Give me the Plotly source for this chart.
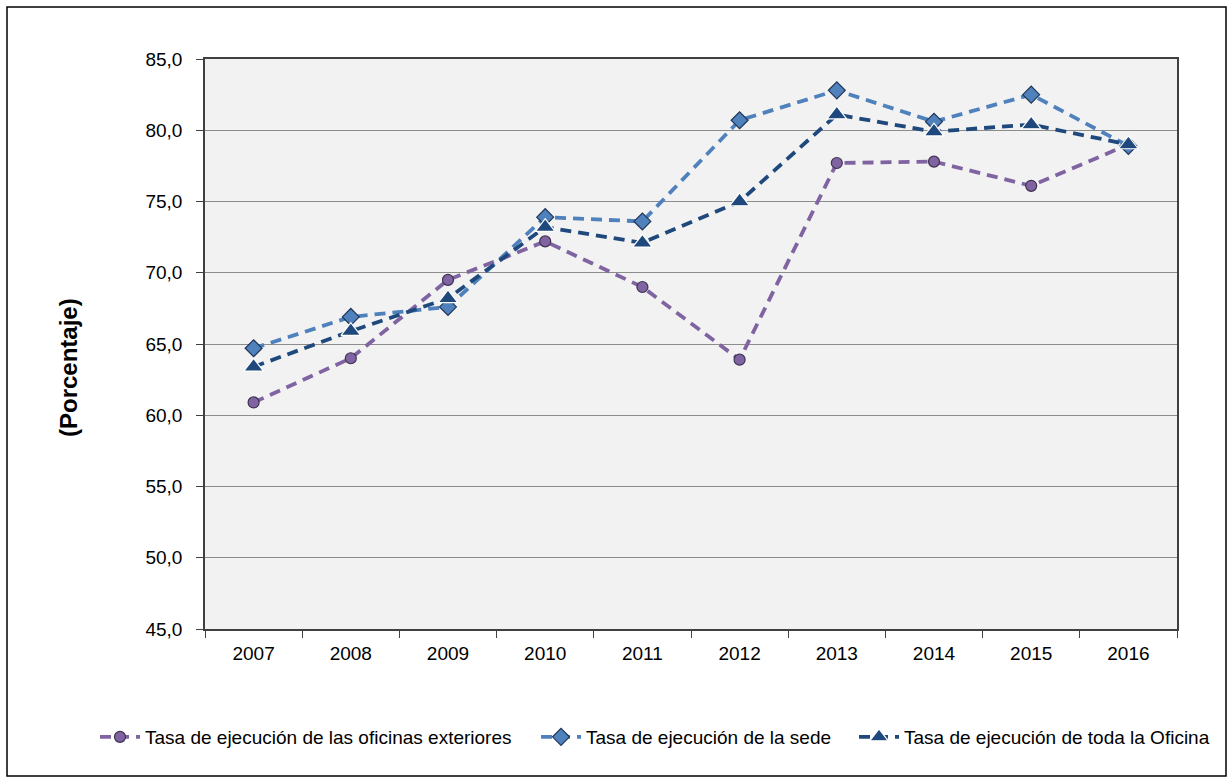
import plotly.graph_objects as go

years = ["2007", "2008", "2009", "2010", "2011", "2012", "2013", "2014", "2015", "2016"]
oficinas_exteriores = [60.9, 64.0, 69.5, 72.2, 69.0, 63.9, 77.7, 77.8, 76.1, 79.0]
sede = [64.7, 66.9, 67.6, 73.9, 73.6, 80.7, 82.8, 80.6, 82.5, 78.9]
toda_oficina = [63.4, 65.9, 68.2, 73.2, 72.1, 75.0, 81.1, 79.9, 80.4, 79.0]

names = [
    "Tasa de ejecución de las oficinas exteriores",
    "Tasa de ejecución de la sede",
    "Tasa de ejecución de toda la Oficina",
]

DASH = "11px,7px"

fig = go.Figure()
fig.add_trace(go.Scatter(
    x=years, y=oficinas_exteriores, name=names[0], mode="lines+markers", legend="legend",
    line=dict(color="#8064A2", width=3.8, dash=DASH),
    marker=dict(symbol="circle", size=11, color="#8064A2", line=dict(color="#3F3151", width=1.2)),
))
fig.add_trace(go.Scatter(
    x=years, y=sede, name=names[1], mode="lines+markers", legend="legend2",
    line=dict(color="#4F81BD", width=3.8, dash=DASH),
    marker=dict(symbol="diamond", size=13, color="#4F81BD", line=dict(color="#1F3556", width=1.2)),
))
fig.add_trace(go.Scatter(
    x=years, y=toda_oficina, name=names[2], mode="lines+markers", legend="legend3",
    line=dict(color="#1F497D", width=3.8, dash=DASH),
    marker=dict(symbol="triangle-up", size=17, color="#1F497D", line=dict(color="#FFFFFF", width=1.2)),
))

L, R, T, B = 205, 1177, 59, 629
W, H = R - L, B - T

def px(x):
    return (x - L) / W

def py(y):
    return (B - y) / H

def leg(text_x):
    return dict(
        orientation="h", x=px(text_x - 52), y=py(737), xanchor="left", yanchor="middle",
        font=dict(size=19), bgcolor="rgba(0,0,0,0)", itemwidth=40, tracegroupgap=0,
    )

fig.update_layout(
    width=1230, height=781,
    margin=dict(l=L, r=1230 - R, t=T, b=781 - B),
    paper_bgcolor="white",
    plot_bgcolor="#F2F2F2",
    separators=",.",
    font=dict(family="Liberation Sans, Arial, sans-serif", size=19, color="#000000"),
    showlegend=True,
    legend=leg(147),
    legend2=leg(588),
    legend3=leg(906),
    xaxis=dict(
        type="category", range=[-0.5, len(years) - 0.5], tickson="boundaries",
        ticks="outside", ticklen=7,
        tickcolor="#404040", showline=True, linecolor="#404040", linewidth=1.5,
        mirror=True, showgrid=False, tickfont=dict(size=19), ticklabelstandoff=6,
    ),
    yaxis=dict(
        range=[45, 85], dtick=5, tickformat=".1f", ticks="outside", ticklen=7,
        tickcolor="#404040", showline=True, linecolor="#404040", linewidth=1.5,
        mirror=True, showgrid=True, gridcolor="#8C8C8C", gridwidth=1.3,
        zeroline=False, tickfont=dict(size=19), ticklabelstandoff=10,
    ),
    shapes=[dict(
        type="rect", xref="paper", yref="paper",
        x0=px(7), x1=px(1226), y0=py(776), y1=py(7),
        line=dict(color="#000000", width=1.5), fillcolor="rgba(0,0,0,0)", layer="below",
    )],
    annotations=[dict(
        text="<b>(Porcentaje)</b>", xref="paper", yref="paper",
        x=px(68), y=py(368), textangle=-90, showarrow=False,
        font=dict(size=24), xanchor="center", yanchor="middle",
    )],
)

fig.write_html("out.html", config={"displayModeBar": False},
               post_script="document.body.style.margin='0';")
